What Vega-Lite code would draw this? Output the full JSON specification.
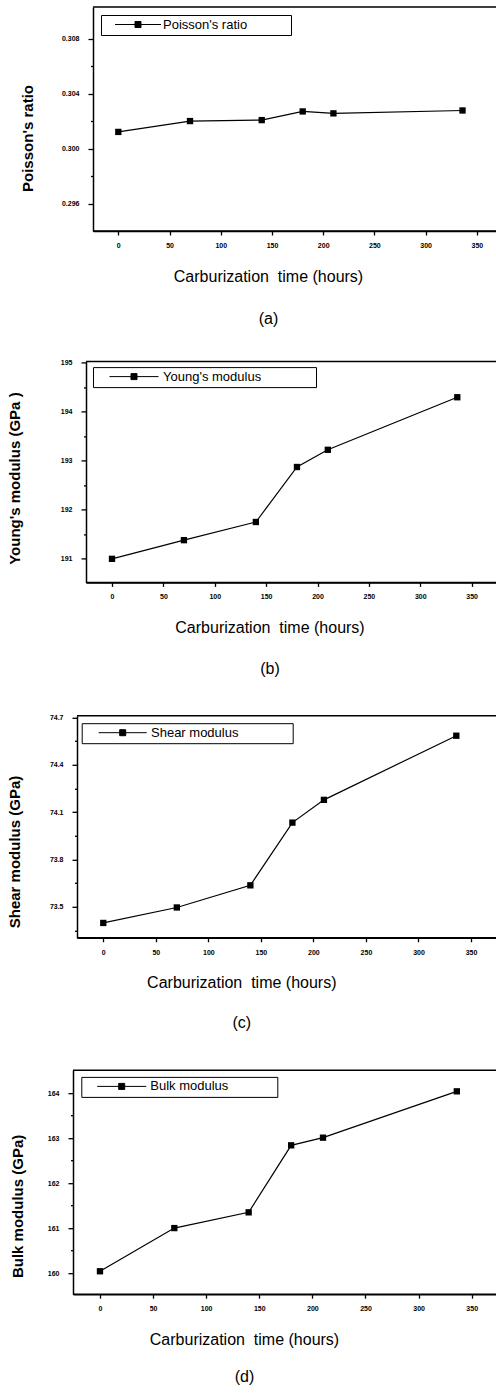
{
  "$schema": "https://vega.github.io/schema/vega-lite/v6.json",
  "padding": {"left": 0, "top": 6, "right": -54, "bottom": 0},
  "background": "white",
  "columns": 1,
  "align": "all",
  "center": true,
  "bounds": "flush",
  "spacing": 130.4,
  "resolve": {"scale": {"color": "independent"}, "legend": {"color": "independent"}},
  "config": {
    "view": {"stroke": "black", "strokeWidth": 1.5},
    "font": "Liberation Sans",
    "axis": {
      "grid": false,
      "labelFont": "Liberation Sans",
      "labelFontSize": 7,
      "labelFontWeight": "bold",
      "labelColor": "black",
      "labelFlush": false,
      "labelOverlap": false,
      "domainColor": "black",
      "domainWidth": 1.5,
      "tickColor": "black",
      "tickWidth": 1.3,
      "titleColor": "black",
      "titleFont": "Liberation Sans"
    },
    "axisX": {"titleFontSize": 16, "titleFontWeight": "normal", "tickSize": 4, "labelPadding": 6.5},
    "axisY": {"titleFontSize": 15, "titleFontWeight": "bold", "labelPadding": 9},
    "legend": {"labelFont": "Liberation Sans", "labelColor": "black", "titleFont": "Liberation Sans", "titleOrient": "right", "titleOpacity": 0, "titlePadding": 0}
  },
  "concat": [
    {
      "width": 436,
      "height": 224,
      "view": {"stroke": "black", "strokeWidth": 1.5, "strokeDash": [436, 224]},
      "data": {"values": [
        {"t": 0, "v": 0.30121, "series": "Poisson's ratio"},
        {"t": 70, "v": 0.3020, "series": "Poisson's ratio"},
        {"t": 140, "v": 0.30207, "series": "Poisson's ratio"},
        {"t": 180, "v": 0.30270, "series": "Poisson's ratio"},
        {"t": 210, "v": 0.30256, "series": "Poisson's ratio"},
        {"t": 336, "v": 0.30277, "series": "Poisson's ratio"}
      ]},
      "encoding": {
        "x": {"field": "t", "type": "quantitative",
          "scale": {"domain": [-24.7, 400.9], "nice": false, "zero": false},
          "axis": {
            "values": [0, 50, 100, 150, 200, 250, 300, 350],
            "format": "d",
            "title": ["Carburization\u00a0 time (hours)", "(a)"],
            "titleX": 175, "titleY": 45, "titleLineHeight": 42,
            "titleAlign": "center", "titleBaseline": "middle"
          }
        },
        "y": {"field": "v", "type": "quantitative",
          "scale": {"domain": [0.294, 0.3103], "nice": false, "zero": false},
          "axis": {
            "values": [0.296, 0.298, 0.300, 0.302, 0.304, 0.306, 0.308],
            "labelExpr": "abs(datum.value*250 - round(datum.value*250)) < 0.01 ? format(datum.value, '.3f') : ''",
            "tickSize": {"expr": "abs(datum.value*250 - round(datum.value*250)) < 0.01 ? 5 : 2.5"},
            "title": ["", "Poisson's ratio"],
            "titleX": -85, "titleY": 131, "titleLineHeight": 19,
            "titleAngle": 270, "titleAlign": "center", "titleBaseline": "middle"
          }
        }
      },
      "layer": [
        {"mark": {"type": "line", "color": "black", "strokeWidth": 1.2}},
        {
          "mark": {"type": "point", "shape": "square", "filled": true, "size": 40, "opacity": 1},
          "encoding": {
            "color": {"field": "series", "type": "nominal", "scale": {"range": ["black"]},
              "legend": {
                "orient": "none", "legendX": 8, "legendY": 8,
                "title": "MMMMMM", "titleFontSize": 8.2,
                "padding": 3, "strokeColor": "black", "fillColor": "white",
                "symbolType": "M-7.27,0H7.27M-0.95,-0.95H0.95V0.95H-0.95Z",
                "symbolSize": 40, "symbolOffset": 27.5, "labelOffset": 18.5,
                "symbolStrokeWidth": 1, "symbolFillColor": "black", "symbolStrokeColor": "black",
                "labelFontSize": 13, "labelLimit": 0,
                "encode": {"symbols": {"update": {"shape": {"value": "M-7.27,0H7.27M-0.95,-0.95H0.95V0.95H-0.95Z"}, "size": {"value": 40}, "fill": {"value": "black"}, "stroke": {"value": "black"}, "strokeWidth": {"value": 1}}}}
              }
            }
          }
        }
      ]
    },
    {
      "width": 450,
      "height": 221,
      "view": {"stroke": "black", "strokeWidth": 1.5, "strokeDash": [450, 221]},
      "data": {"values": [
        {"t": 0, "v": 191.0, "series": "Young's modulus"},
        {"t": 70, "v": 191.38, "series": "Young's modulus"},
        {"t": 140, "v": 191.75, "series": "Young's modulus"},
        {"t": 180, "v": 192.87, "series": "Young's modulus"},
        {"t": 210, "v": 193.22, "series": "Young's modulus"},
        {"t": 336, "v": 194.29, "series": "Young's modulus"}
      ]},
      "encoding": {
        "x": {"field": "t", "type": "quantitative",
          "scale": {"domain": [-25.3, 412.6], "nice": false, "zero": false},
          "axis": {
            "values": [0, 50, 100, 150, 200, 250, 300, 350],
            "format": "d",
            "title": ["Carburization\u00a0 time (hours)", "(b)"],
            "titleX": 183.5, "titleY": 45, "titleLineHeight": 41,
            "titleAlign": "center", "titleBaseline": "middle"
          }
        },
        "y": {"field": "v", "type": "quantitative",
          "scale": {"domain": [190.52, 195.02], "nice": false, "zero": false},
          "axis": {
            "values": [191, 191.5, 192, 192.5, 193, 193.5, 194, 194.5, 195],
            "labelExpr": "abs(datum.value - round(datum.value)) < 0.01 ? format(datum.value, 'd') : ''",
            "tickSize": {"expr": "abs(datum.value - round(datum.value)) < 0.01 ? 5 : 2.5"},
            "title": ["", "Young's modulus (GPa )"],
            "titleX": -78, "titleY": 116.7, "titleLineHeight": 6,
            "titleAngle": 270, "titleAlign": "center", "titleBaseline": "middle"
          }
        }
      },
      "layer": [
        {"mark": {"type": "line", "color": "black", "strokeWidth": 1.2}},
        {
          "mark": {"type": "point", "shape": "square", "filled": true, "size": 40, "opacity": 1},
          "encoding": {
            "color": {"field": "series", "type": "nominal", "scale": {"range": ["black"]},
              "legend": {
                "orient": "none", "legendX": 7, "legendY": 5.7,
                "title": "MMMMMM", "titleFontSize": 10.3,
                "padding": 3, "strokeColor": "black", "fillColor": "white",
                "symbolType": "M-7.75,0H7.75M-0.95,-0.95H0.95V0.95H-0.95Z",
                "symbolSize": 40, "symbolOffset": 31.5, "labelOffset": 22.5,
                "symbolStrokeWidth": 1, "symbolFillColor": "black", "symbolStrokeColor": "black",
                "labelFontSize": 13, "labelLimit": 0,
                "encode": {"symbols": {"update": {"shape": {"value": "M-7.75,0H7.75M-0.95,-0.95H0.95V0.95H-0.95Z"}, "size": {"value": 40}, "fill": {"value": "black"}, "stroke": {"value": "black"}, "strokeWidth": {"value": 1}}}}
              }
            }
          }
        }
      ]
    },
    {
      "width": 468,
      "height": 222,
      "view": {"stroke": "black", "strokeWidth": 1.5, "strokeDash": [468, 222]},
      "data": {"values": [
        {"t": 0, "v": 73.399, "series": "Shear modulus"},
        {"t": 70, "v": 73.497, "series": "Shear modulus"},
        {"t": 140, "v": 73.637, "series": "Shear modulus"},
        {"t": 180, "v": 74.034, "series": "Shear modulus"},
        {"t": 210, "v": 74.178, "series": "Shear modulus"},
        {"t": 336, "v": 74.584, "series": "Shear modulus"}
      ]},
      "encoding": {
        "x": {"field": "t", "type": "quantitative",
          "scale": {"domain": [-25.0, 420.4], "nice": false, "zero": false},
          "axis": {
            "values": [0, 50, 100, 150, 200, 250, 300, 350],
            "format": "d",
            "title": ["Carburization\u00a0 time (hours)", "(c)"],
            "titleX": 164.3, "titleY": 44.7, "titleLineHeight": 40,
            "titleAlign": "center", "titleBaseline": "middle"
          }
        },
        "y": {"field": "v", "type": "quantitative",
          "scale": {"domain": [73.305, 74.71], "nice": false, "zero": false},
          "axis": {
            "values": [73.35, 73.5, 73.65, 73.8, 73.95, 74.1, 74.25, 74.4, 74.55, 74.7],
            "labelExpr": "abs(datum.value/0.3 - round(datum.value/0.3)) < 0.01 ? format(datum.value, '.1f') : ''",
            "tickSize": {"expr": "abs(datum.value/0.3 - round(datum.value/0.3)) < 0.01 ? 5 : 2.5"},
            "title": ["", "Shear modulus (GPa)"],
            "titleX": -69, "titleY": 135.7, "titleLineHeight": 6,
            "titleAngle": 270, "titleAlign": "center", "titleBaseline": "middle"
          }
        }
      },
      "layer": [
        {"mark": {"type": "line", "color": "black", "strokeWidth": 1.2}},
        {
          "mark": {"type": "point", "shape": "square", "filled": true, "size": 40, "opacity": 1},
          "encoding": {
            "color": {"field": "series", "type": "nominal", "scale": {"range": ["black"]},
              "legend": {
                "orient": "none", "legendX": 4.7, "legendY": 7.4,
                "title": "MMMMMM", "titleFontSize": 10.1,
                "padding": 3, "strokeColor": "black", "fillColor": "white",
                "symbolType": "M-7.6,0H7.6M-0.95,-0.95H0.95V0.95H-0.95Z",
                "symbolSize": 40, "symbolOffset": 31.5, "labelOffset": 21.8,
                "symbolStrokeWidth": 1, "symbolFillColor": "black", "symbolStrokeColor": "black",
                "labelFontSize": 13, "labelLimit": 0,
                "encode": {"symbols": {"update": {"shape": {"value": "M-7.6,0H7.6M-0.95,-0.95H0.95V0.95H-0.95Z"}, "size": {"value": 40}, "fill": {"value": "black"}, "stroke": {"value": "black"}, "strokeWidth": {"value": 1}}}}
              }
            }
          }
        }
      ]
    },
    {
      "width": 476,
      "height": 224,
      "view": {"stroke": "black", "strokeWidth": 1.5, "strokeDash": [476, 224]},
      "data": {"values": [
        {"t": 0, "v": 160.04, "series": "Bulk modulus"},
        {"t": 70, "v": 161.0, "series": "Bulk modulus"},
        {"t": 140, "v": 161.35, "series": "Bulk modulus"},
        {"t": 180, "v": 162.84, "series": "Bulk modulus"},
        {"t": 210, "v": 163.01, "series": "Bulk modulus"},
        {"t": 336, "v": 164.04, "series": "Bulk modulus"}
      ]},
      "encoding": {
        "x": {"field": "t", "type": "quantitative",
          "scale": {"domain": [-25.4, 422.8], "nice": false, "zero": false},
          "axis": {
            "values": [0, 50, 100, 150, 200, 250, 300, 350],
            "format": "d",
            "title": ["Carburization\u00a0 time (hours)", "(d)"],
            "titleX": 171, "titleY": 45, "titleLineHeight": 37.3,
            "titleAlign": "center", "titleBaseline": "middle"
          }
        },
        "y": {"field": "v", "type": "quantitative",
          "scale": {"domain": [159.53, 164.51], "nice": false, "zero": false},
          "axis": {
            "values": [160, 160.5, 161, 161.5, 162, 162.5, 163, 163.5, 164],
            "labelExpr": "abs(datum.value - round(datum.value)) < 0.01 ? format(datum.value, 'd') : ''",
            "tickSize": {"expr": "abs(datum.value - round(datum.value)) < 0.01 ? 5 : 2.5"},
            "title": ["", "Bulk modulus (GPa)"],
            "titleX": -65, "titleY": 135.7, "titleLineHeight": 9,
            "titleAngle": 270, "titleAlign": "center", "titleBaseline": "middle"
          }
        }
      },
      "layer": [
        {"mark": {"type": "line", "color": "black", "strokeWidth": 1.2}},
        {
          "mark": {"type": "point", "shape": "square", "filled": true, "size": 40, "opacity": 1},
          "encoding": {
            "color": {"field": "series", "type": "nominal", "scale": {"range": ["black"]},
              "legend": {
                "orient": "none", "legendX": 8.3, "legendY": 6.7,
                "title": "MMMMMM", "titleFontSize": 9.1,
                "padding": 3, "strokeColor": "black", "fillColor": "white",
                "symbolType": "M-7.75,0H7.75M-0.95,-0.95H0.95V0.95H-0.95Z",
                "symbolSize": 40, "symbolOffset": 30.9, "labelOffset": 22.1,
                "symbolStrokeWidth": 1, "symbolFillColor": "black", "symbolStrokeColor": "black",
                "labelFontSize": 13, "labelLimit": 0,
                "encode": {"symbols": {"update": {"shape": {"value": "M-7.75,0H7.75M-0.95,-0.95H0.95V0.95H-0.95Z"}, "size": {"value": 40}, "fill": {"value": "black"}, "stroke": {"value": "black"}, "strokeWidth": {"value": 1}}}}
              }
            }
          }
        }
      ]
    }
  ]
}
